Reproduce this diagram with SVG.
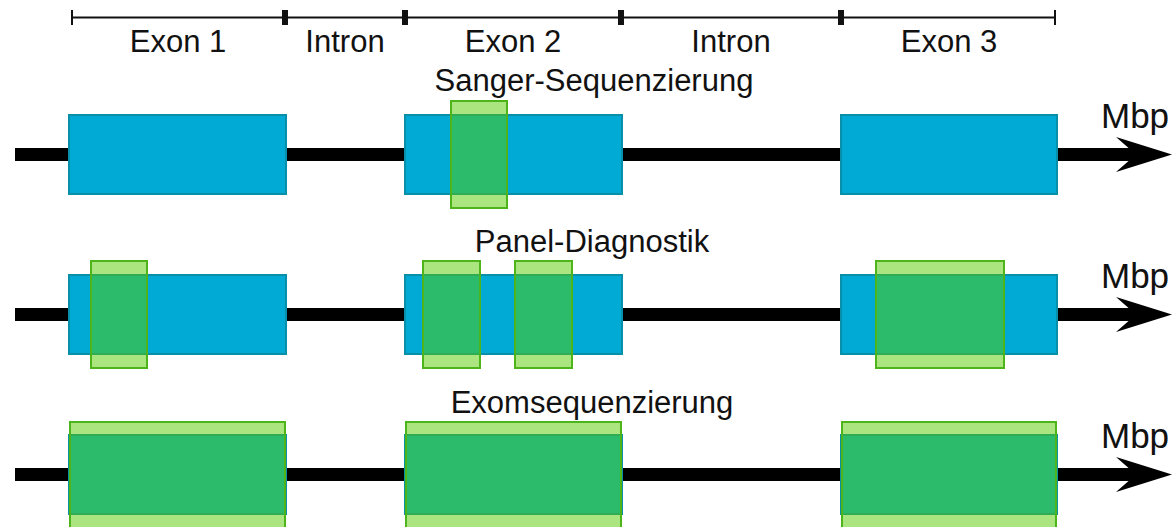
<svg xmlns="http://www.w3.org/2000/svg" width="1176" height="527" viewBox="0 0 1176 527">
  <style>
    .lbl { font-family: "Liberation Sans", Arial, sans-serif; font-size: 31px; fill: #111; text-anchor: middle; }
    .unit { font-family: "Liberation Sans", Arial, sans-serif; font-size: 35px; fill: #111; }
    .exon { fill: #00AAD4; stroke: #0A8FA8; stroke-width: 2; }
    .read { fill: #55CC00; fill-opacity: 0.5; stroke: #4DB51A; stroke-width: 2; }
    .axis { stroke: #000; stroke-width: 13; fill: none; }
    .scale { stroke: #111; stroke-width: 2; fill: none; }
    .tick { stroke: #111; stroke-width: 2; }
    .btick { stroke: #111; stroke-width: 6; }
  </style>
  <defs>
    <polygon id="arrowhead" points="1172,154.5 1116,137 1136,154.5 1116,172" fill="#000"/>
  </defs>

  <!-- scale bar with region labels -->
  <g id="scale">
    <line class="scale" x1="71" y1="17.5" x2="1055" y2="17.5"/>
    <line class="tick" x1="72" y1="10" x2="72" y2="25"/>
    <line class="btick" x1="285" y1="10" x2="285" y2="25"/>
    <line class="btick" x1="405" y1="10" x2="405" y2="25"/>
    <line class="btick" x1="621" y1="10" x2="621" y2="25"/>
    <line class="btick" x1="841" y1="10" x2="841" y2="25"/>
    <line class="tick" x1="1055" y1="10" x2="1055" y2="25"/>
    <text class="lbl" x="178" y="52">Exon 1</text>
    <text class="lbl" x="345" y="52">Intron</text>
    <text class="lbl" x="513" y="52">Exon 2</text>
    <text class="lbl" x="731" y="52">Intron</text>
    <text class="lbl" x="949" y="52">Exon 3</text>
  </g>

  <!-- genomic axes -->
  <g id="connectors">
    <line class="axis" x1="15" y1="154.5" x2="1140" y2="154.5"/>
    <use href="#arrowhead"/>
    <line class="axis" x1="15" y1="314.5" x2="1140" y2="314.5"/>
    <use href="#arrowhead" transform="translate(0,160)"/>
    <line class="axis" x1="15" y1="474.5" x2="1140" y2="474.5"/>
    <use href="#arrowhead" transform="translate(0,320)"/>
  </g>

  <!-- Sanger sequencing -->
  <g id="sanger">
    <text class="lbl" x="594" y="91">Sanger-Sequenzierung</text>
    <text class="unit" x="1101" y="128">Mbp</text>
    <rect class="exon" x="69" y="115" width="217" height="79"/>
    <rect class="exon" x="405" y="115" width="217" height="79"/>
    <rect class="exon" x="841" y="115" width="216" height="79"/>
    <rect class="read" x="451" y="101" width="56" height="107"/>
  </g>

  <!-- panel diagnostics -->
  <g id="panel">
    <text class="lbl" x="592" y="252">Panel-Diagnostik</text>
    <text class="unit" x="1101" y="288">Mbp</text>
    <rect class="exon" x="69" y="275" width="217" height="79"/>
    <rect class="exon" x="405" y="275" width="217" height="79"/>
    <rect class="exon" x="841" y="275" width="216" height="79"/>
    <rect class="read" x="91" y="261" width="56" height="107"/>
    <rect class="read" x="423" y="261" width="57" height="107"/>
    <rect class="read" x="515" y="261" width="57" height="107"/>
    <rect class="read" x="876" y="261" width="128" height="107"/>
  </g>

  <!-- exome sequencing -->
  <g id="exome">
    <text class="lbl" x="592" y="413">Exomsequenzierung</text>
    <text class="unit" x="1101" y="448">Mbp</text>
    <rect class="exon" x="69" y="435" width="217" height="79"/>
    <rect class="exon" x="405" y="435" width="217" height="79"/>
    <rect class="exon" x="841" y="435" width="216" height="79"/>
    <rect class="read" x="70" y="422" width="215" height="107"/>
    <rect class="read" x="406" y="422" width="215" height="107"/>
    <rect class="read" x="842" y="422" width="214" height="107"/>
  </g>
</svg>
